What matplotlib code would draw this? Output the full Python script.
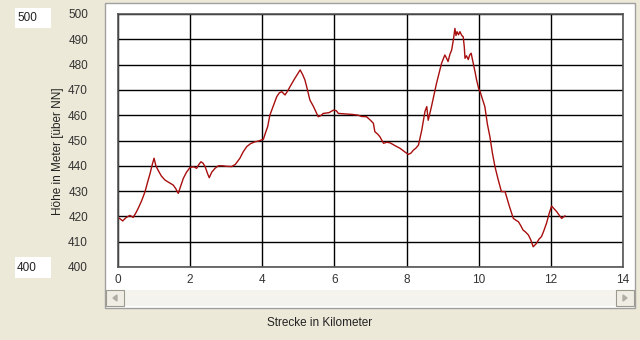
import matplotlib
matplotlib.use("Agg")
import matplotlib.pyplot as plt
from matplotlib.patches import Rectangle, Polygon

# Hoehenprofil (km, Meter ueber NN)
km = [0.00, 0.08, 0.13, 0.22, 0.33, 0.42, 0.50, 0.56, 0.65, 0.75, 0.82, 0.89, 0.95, 1.00,
      1.05, 1.11, 1.20, 1.30, 1.40, 1.53, 1.60, 1.67, 1.74, 1.81, 1.90, 2.00, 2.10, 2.18,
      2.24, 2.30, 2.36, 2.42, 2.48, 2.53, 2.60, 2.69, 2.78, 2.90, 3.00, 3.15, 3.25, 3.38,
      3.47, 3.57, 3.68, 3.80, 3.90, 4.03, 4.10, 4.15, 4.21, 4.30, 4.40, 4.47, 4.54, 4.63,
      4.70, 4.77, 4.90, 5.05, 5.12, 5.18, 5.23, 5.32, 5.42, 5.55, 5.62, 5.69, 5.85, 5.97,
      6.05, 6.11, 6.30, 6.50, 6.66, 6.75, 6.89, 7.00, 7.08, 7.12, 7.20, 7.26, 7.36, 7.45,
      7.54, 7.70, 7.82, 7.95, 8.05, 8.12, 8.19, 8.26, 8.33, 8.42, 8.51, 8.56, 8.60, 8.65,
      8.69, 8.76, 8.83, 8.90, 8.97, 9.06, 9.11, 9.15, 9.20, 9.25, 9.30, 9.34, 9.37, 9.40,
      9.44, 9.48, 9.53, 9.57, 9.60, 9.62, 9.66, 9.71, 9.75, 9.79, 9.85, 9.90, 9.94, 10.00,
      10.04, 10.10, 10.17, 10.24, 10.31, 10.38, 10.45, 10.54, 10.63, 10.73, 10.85, 10.96,
      11.03, 11.10, 11.16, 11.23, 11.30, 11.38, 11.45, 11.51, 11.55, 11.60, 11.67, 11.74,
      11.81, 11.88, 11.95, 12.02, 12.09, 12.16, 12.23, 12.30, 12.39]
hoehe = [419.6, 418.8, 418.2, 419.5, 420.4, 419.6, 421.5, 423.2, 426.0, 429.8, 433.5, 437.0, 440.5, 443.0,
         440.0, 438.3, 436.0, 434.4, 433.5, 432.4, 431.0, 429.1, 432.0, 435.0, 437.5, 439.4, 439.6, 439.0,
         440.5, 441.6, 441.0, 439.5, 437.0, 435.3, 437.5, 439.0, 440.0, 440.0, 439.8, 439.7, 440.5, 443.0,
         445.5, 447.6, 448.8, 449.5, 449.8, 450.5, 453.5, 455.5, 460.0, 463.5, 467.3, 468.8, 469.3, 468.0,
         469.5, 471.3, 474.5, 477.9, 476.0, 474.0, 471.3, 466.0, 463.4, 459.4, 459.8, 460.7, 461.0, 462.0,
         461.8, 460.7, 460.5, 460.3, 460.0, 459.5, 459.4, 458.0, 456.8, 453.5, 452.5, 451.5, 448.9, 449.3,
         449.1, 447.8, 446.9, 445.5, 444.5, 445.0, 446.2, 447.0, 448.2, 454.0, 461.5, 463.4, 458.0, 461.0,
         463.4, 468.0, 472.6, 476.5, 480.5, 483.8, 482.5, 481.2, 484.0, 485.8, 490.0, 494.3, 491.5, 493.0,
         491.8, 493.0, 491.5, 491.0, 487.0, 482.5, 483.5, 482.0, 483.8, 484.5, 480.5, 477.0, 474.0, 470.5,
         469.3, 466.5, 463.4, 456.5, 451.5, 445.0, 439.7, 434.5, 429.8, 429.8, 424.0, 419.2,
         418.5, 417.9, 416.5, 414.6, 413.8, 412.6, 410.5, 408.0, 408.6, 409.3, 411.0, 412.0,
         414.5, 417.3, 421.0, 424.1, 423.0, 421.9, 420.5, 419.2, 420.2]

x_ticks = [0, 2, 4, 6, 8, 10, 12, 14]
y_ticks = [400, 410, 420, 430, 440, 450, 460, 470, 480, 490, 500]

W, H = 640, 340
bg = '#ECE9D8'
PT = 72 / 100  # points per pixel at dpi 100

plt.rcParams['font.family'] = ['Liberation Sans', 'DejaVu Sans']
plt.rcParams['font.size'] = 8.5


def box(x0, y0, x1, y1, **kw):
    # rectangle in pixel coords (top-left origin), behind the axes
    return Rectangle((x0 / W, 1 - y1 / H), (x1 - x0) / W, (y1 - y0) / H,
                     transform=fig.transFigure, zorder=-5, **kw)


def tri(pts):
    return Polygon([(x / W, 1 - y / H) for x, y in pts], closed=True,
                   transform=fig.transFigure, color='#B0AEA4', zorder=-4)


fig = plt.figure(figsize=(6.4, 3.4), dpi=100, facecolor=bg)

# white chart panel with sunken border
fig.patches.append(box(105, 3, 635, 308, facecolor='white', edgecolor='#A0A0A0', lw=1))
# scrollbar
fig.patches.append(box(106, 290, 634, 306, facecolor='#F4F3EE', edgecolor='none'))
for bx in [(106, 124), (616, 634)]:
    fig.patches.append(box(bx[0], 290, bx[1], 306, facecolor='#EFEDE4', edgecolor='#9C9A8F', lw=0.8))
fig.patches.append(tri([(117, 295), (117, 301), (113, 298)]))
fig.patches.append(tri([(623, 295), (623, 301), (627, 298)]))

# little value boxes on the left
fig.patches.append(box(15, 8, 51, 28, facecolor='white', edgecolor='none'))
fig.patches.append(box(15, 257, 51, 278, facecolor='white', edgecolor='none'))
fig.text(17 / W, 1 - 18 / H, '500', ha='left', va='center', color='#222222')
fig.text(17 / W, 1 - 268 / H, '400', ha='left', va='center', color='#222222')

ax = fig.add_axes([118 / W, 1 - 267 / H, (623 - 118) / W, (267 - 14) / H])
ax.set_facecolor('white')
ax.plot(km, hoehe, color='#A80E0E', lw=1)
ax.set_xlim(0, 14)
ax.set_ylim(400, 500)
ax.set_xticks(x_ticks)
ax.set_yticks(y_ticks)
ax.grid(True, color='black', lw=1)
ax.set_axisbelow(True)
ax.tick_params(length=0, colors='#333333')
ax.tick_params(axis='y', pad=30 * PT)
ax.tick_params(axis='x', pad=7 * PT)
for s in ax.spines.values():
    s.set_color('#555555')
    s.set_linewidth(1.2)

fig.text(58 / W, 1 - 151 / H, 'Höhe in Meter [über NN]', rotation=90,
         ha='center', va='center', color='#222222')
fig.text(320 / W, 1 - 323 / H, 'Strecke in Kilometer', ha='center', va='center', color='#222222')

plt.savefig('out.png', dpi=100, facecolor=bg)
